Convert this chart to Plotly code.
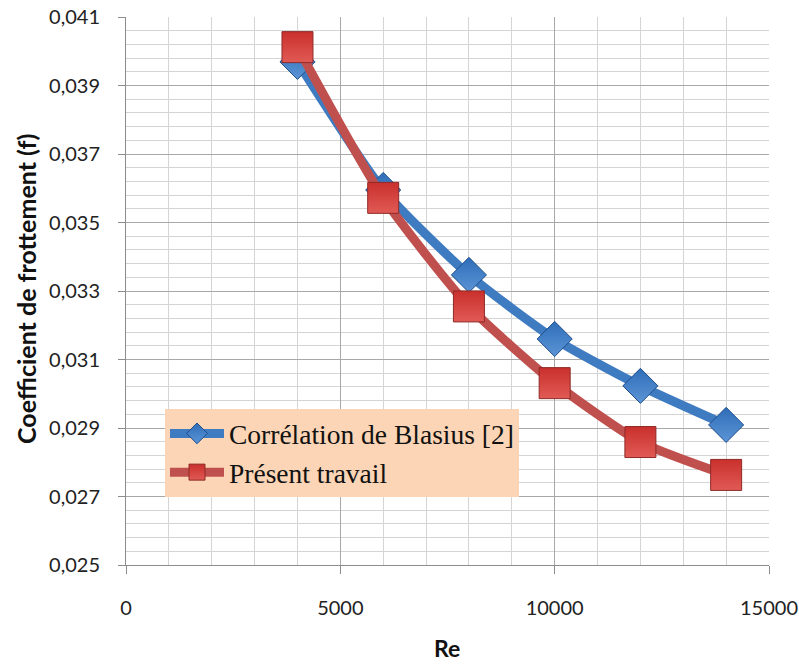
import plotly.graph_objects as go

re_vals = [4000, 6000, 8000, 10000, 12000, 14000]
f_blasius = [0.03969, 0.03595, 0.03347, 0.03160, 0.03023, 0.02909]
f_present = [0.04012, 0.03572, 0.03255, 0.03031, 0.02859, 0.02763]
name_blasius = "Corrélation de Blasius [2]"
name_present = "Présent travail"
y_tickvals = [0.025, 0.027, 0.029, 0.031, 0.033, 0.035, 0.037, 0.039, 0.041]
x_tickvals = [0, 5000, 10000, 15000]

BLUE = "#3F7BC1"
RED = "#C0504D"
TICKFONT = "Lato"

fig = go.Figure()
fig.add_trace(go.Scatter(
    x=re_vals, y=f_blasius, name=name_blasius, mode="lines+markers",
    line=dict(color=BLUE, width=9, shape="spline", smoothing=0.6),
    marker=dict(symbol="diamond", size=27, color="#2E6DB8",
                gradient=dict(type="vertical", color="#5C95D6"),
                line=dict(color="#1F4E8A", width=1)),
))
fig.add_trace(go.Scatter(
    x=re_vals, y=f_present, name=name_present, mode="lines+markers",
    line=dict(color=RED, width=9, shape="spline", smoothing=0.6),
    marker=dict(symbol="square", size=31, color="#C9302C",
                gradient=dict(type="vertical", color="#E15A55"),
                line=dict(color="#8E2A27", width=1)),
))

fig.update_layout(
    width=799, height=664,
    margin=dict(l=126, r=30, t=17, b=99),
    paper_bgcolor="white", plot_bgcolor="white",
    separators=",.",
    showlegend=True,
    legend=dict(
        x=(165 - 126) / 643, y=(565 - 409) / 548, xanchor="left", yanchor="top",
        bgcolor="#FBD5B5", borderwidth=0,
        font=dict(family="Liberation Serif", size=27.5, color="#111111"),
        itemwidth=54, tracegroupgap=0,
    ),
    xaxis=dict(
        range=[0, 15000], tickvals=x_tickvals, tickformat="d",
        automargin=False,
        showgrid=True, gridcolor="#A8A8A8", gridwidth=1,
        minor=dict(dtick=1000, tick0=0, showgrid=True, gridcolor="#D4D4D4", gridwidth=1),
        ticks="outside", ticklen=8, tickcolor="#8C8C8C",
        showline=True, linecolor="#8C8C8C", linewidth=1,
        zeroline=False,
        tickfont=dict(family=TICKFONT, size=20, color="#222222"),
        ticklabelstandoff=17,
    ),
    yaxis=dict(
        range=[0.025, 0.041], tickvals=y_tickvals, tickformat=".3f",
        automargin=False,
        showgrid=True, gridcolor="#A8A8A8", gridwidth=1,
        minor=dict(dtick=0.0004, tick0=0.025, showgrid=True, gridcolor="#D4D4D4", gridwidth=1),
        ticks="outside", ticklen=7, tickcolor="#8C8C8C",
        showline=True, linecolor="#8C8C8C", linewidth=1,
        zeroline=False,
        tickfont=dict(family=TICKFONT, size=20, color="#222222"),
        ticklabelstandoff=14,
    ),
    annotations=[
        dict(text="<b>Coefficient de frottement (f)</b>", textangle=-90,
             xref="paper", yref="paper", x=(26 - 126) / 643, y=(565 - 289) / 548,
             xanchor="center", yanchor="middle", showarrow=False,
             font=dict(family="Lato", size=25, color="#111111")),
        dict(text="<b>Re</b>",
             xref="paper", yref="paper", x=(447 - 126) / 643, y=(565 - 648) / 548,
             xanchor="center", yanchor="middle", showarrow=False,
             font=dict(family="Lato", size=23, color="#111111")),
    ],
)

fig.write_html("out.html")
